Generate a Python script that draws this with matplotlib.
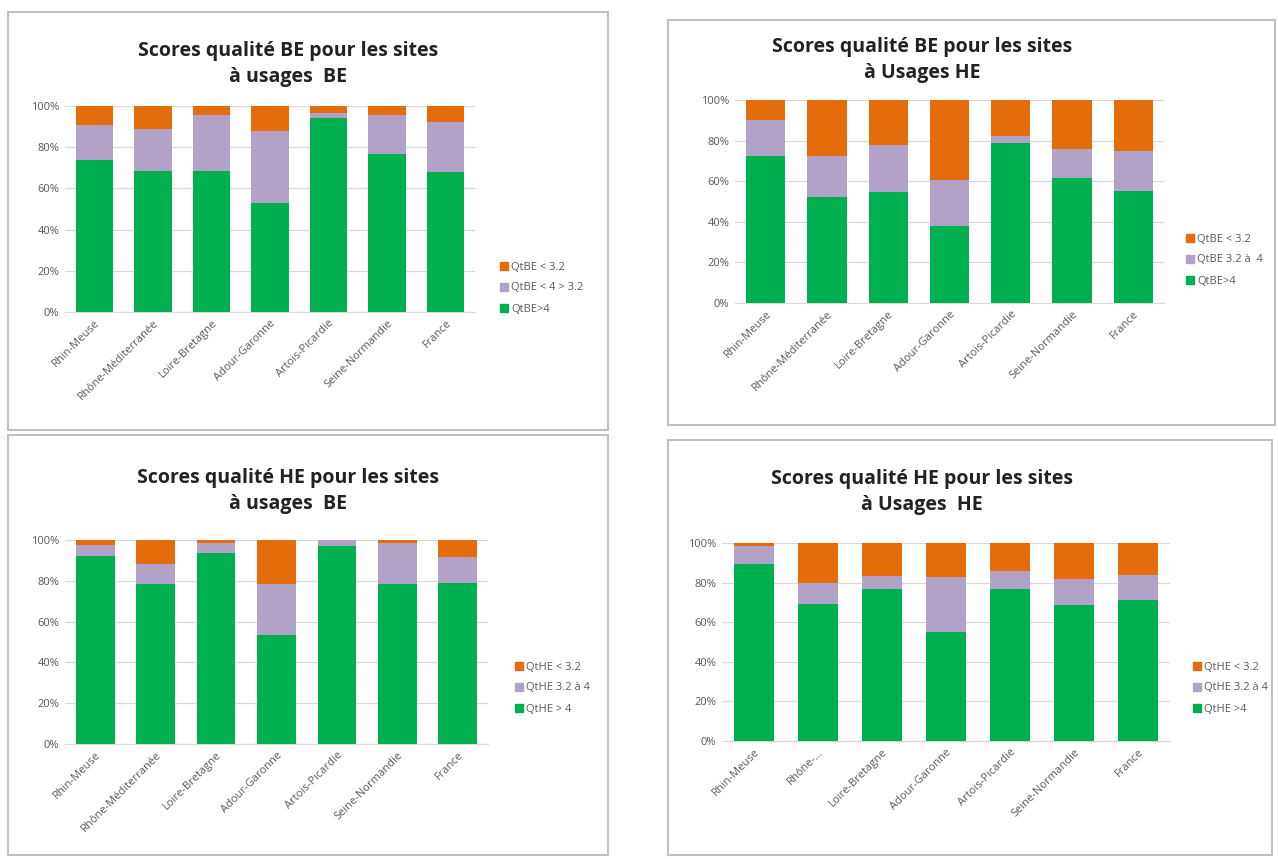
import numpy as np
import matplotlib.pyplot as plt
from matplotlib.patches import Rectangle, Patch
from matplotlib.ticker import PercentFormatter

regions = ["Rhin-Meuse", "Rhône-Méditerranée", "Loire-Bretagne", "Adour-Garonne",
           "Artois-Picardie", "Seine-Normandie", "France"]
regions_short = ["Rhin-Meuse", "Rhône-...", "Loire-Bretagne", "Adour-Garonne",
                 "Artois-Picardie", "Seine-Normandie", "France"]

# % des sites : bon (>4), moyen (3.2 à 4), mauvais (<3.2)
be_usBE_good = [74, 68.5, 68.5, 53, 94, 76.5, 68]
be_usBE_mid = [17, 20.5, 27, 35, 2.5, 19, 24]
be_usHE_good = [72.5, 52, 54.5, 38, 79, 61.5, 55]
be_usHE_mid = [17.5, 20.5, 23.5, 22.5, 3.5, 14.5, 20]
he_usBE_good = [92, 78.5, 93.5, 53.5, 97, 78.5, 79]
he_usBE_mid = [5.5, 9.5, 5, 25, 3, 20, 12.5]
he_usHE_good = [89.5, 69, 77, 55, 77, 68.5, 71]
he_usHE_mid = [9, 11, 6.5, 28, 9, 13.5, 13]

GREEN = "#00B050"
LAV = "#B3A2C7"
ORANGE = "#E46C0A"
GRAY = "#595959"

W, H = 1278, 859
fig = plt.figure(figsize=(W / 100, H / 100), dpi=100)
plt.rcParams['font.family'] = ['Open Sans', 'DejaVu Sans']


def px(x0, y0, x1, y1):
    return [x0 / W, 1 - y1 / H, (x1 - x0) / W, (y1 - y0) / H]


panels = [
    dict(box=(8, 12, 608, 430), ax=(65, 106, 475, 312), title=(288, 64),
         t="Scores qualité BE pour les sites\nà usages  BE", good=be_usBE_good, mid=be_usBE_mid,
         labels=regions, leg=["QtBE < 3.2", "QtBE < 4 > 3.2", "QtBE>4"], legpos=(490, 288)),
    dict(box=(668, 20, 1275, 425), ax=(735, 100, 1164, 303), title=(922, 60),
         t="Scores qualité BE pour les sites\nà Usages HE", good=be_usHE_good, mid=be_usHE_mid,
         labels=regions, leg=["QtBE < 3.2", "QtBE 3.2 à  4", "QtBE>4"], legpos=(1176, 260)),
    dict(box=(8, 435, 608, 855), ax=(65, 540, 488, 744), title=(288, 491),
         t="Scores qualité HE pour les sites\nà usages  BE", good=he_usBE_good, mid=he_usBE_mid,
         labels=regions, leg=["QtHE < 3.2", "QtHE 3.2 à 4", "QtHE > 4"], legpos=(505, 688)),
    dict(box=(668, 440, 1272, 855), ax=(722, 543, 1170, 741), title=(922, 492),
         t="Scores qualité HE pour les sites\nà Usages  HE", good=he_usHE_good, mid=he_usHE_mid,
         labels=regions_short, leg=["QtHE < 3.2", "QtHE 3.2 à 4", "QtHE >4"], legpos=(1183, 688)),
]

for p in panels:
    x0, y0, x1, y1 = p["box"]
    fig.patches.append(Rectangle((x0 / W, 1 - y1 / H), (x1 - x0) / W, (y1 - y0) / H,
                                 transform=fig.transFigure, fill=False,
                                 edgecolor="#BFBFBF", linewidth=1.5))
    fig.text(p["title"][0] / W, 1 - p["title"][1] / H, p["t"], ha="center", va="center",
             fontsize=14, fontweight="bold", color="#222222", linespacing=1.4)

    ax = fig.add_axes(px(*p["ax"]))
    good = np.array(p["good"])
    mid = np.array(p["mid"])
    bad = 100 - good - mid
    x = np.arange(len(p["labels"]))
    ax.bar(x, good, width=0.64, color=GREEN, zorder=3)
    ax.bar(x, mid, width=0.64, bottom=good, color=LAV, zorder=3)
    ax.bar(x, bad, width=0.64, bottom=good + mid, color=ORANGE, zorder=3)
    ax.set_xlim(-0.5, len(x) - 0.5)
    ax.set_ylim(0, 100)
    ax.set_yticks(np.arange(0, 101, 20))
    ax.yaxis.set_major_formatter(PercentFormatter(decimals=0))
    ax.grid(axis="y", color="#D9D9D9", linewidth=0.9, zorder=0)
    for s in ["top", "right", "left"]:
        ax.spines[s].set_visible(False)
    ax.spines["bottom"].set_color("#D9D9D9")
    ax.tick_params(axis="both", length=0, labelsize=8, colors=GRAY, pad=4)
    ax.set_xticks(x)
    ax.set_xticklabels(p["labels"], rotation=45, ha="right", rotation_mode="anchor")

    handles = [Patch(color=ORANGE), Patch(color=LAV), Patch(color=GREEN)]
    ax.legend(handles, p["leg"], loc="center left",
              bbox_to_anchor=(p["legpos"][0] / W, 1 - p["legpos"][1] / H),
              bbox_transform=fig.transFigure, frameon=False, fontsize=8,
              handlelength=0.7, handleheight=0.7, handletextpad=0.3, labelspacing=0.9,
              labelcolor=GRAY)

fig.savefig("out.png", dpi=100)
